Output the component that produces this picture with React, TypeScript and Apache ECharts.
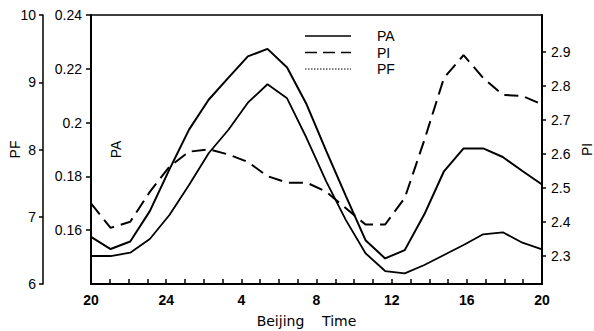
import React, { useEffect, useRef } from "react";
import * as echarts from "echarts";

// Visible time axis: hourly ticks from 20:00 to 20:00 next day
const hourLabels = ["20", "21", "22", "23", "24", "1", "2", "3", "4", "5", "6", "7", "8", "9", "10", "11", "12", "13", "14", "15", "16", "17", "18", "19", "20"];
// 24 samples spread over the full width
const sampleHours = ["20", "21", "22", "23", "0", "1", "2", "3", "4", "5", "6", "7", "8", "9", "10", "11", "12", "13", "14", "15", "16", "17", "18", "19"];

const paValues = [0.1575, 0.153, 0.1558, 0.1671, 0.1826, 0.1974, 0.2085, 0.2166, 0.2246, 0.2274, 0.2205, 0.2067, 0.1894, 0.1727, 0.1563, 0.1495, 0.1526, 0.1659, 0.1819, 0.1904, 0.1904, 0.1872, 0.182, 0.177];
const piValues = [2.455, 2.383, 2.401, 2.489, 2.563, 2.607, 2.614, 2.599, 2.577, 2.535, 2.516, 2.516, 2.489, 2.441, 2.393, 2.393, 2.471, 2.641, 2.824, 2.891, 2.824, 2.774, 2.771, 2.746];
const pfValues = [6.416, 6.416, 6.465, 6.669, 7.026, 7.472, 7.944, 8.29, 8.696, 8.97, 8.761, 8.167, 7.521, 6.95, 6.457, 6.193, 6.159, 6.283, 6.431, 6.58, 6.739, 6.769, 6.614, 6.516];

const piTicks = [2.3, 2.4, 2.5, 2.6, 2.7, 2.8, 2.9];
const legendNames = ["PA", "PI", "PF"];
const legendDash: any[] = ["solid", [12, 6], [1.5, 1.5]];

const FONT = "Liberation Sans, Arial, sans-serif";

export default function App() {
  const ref = useRef<HTMLDivElement>(null);
  useEffect(() => {
    if (!ref.current) return;
    const chart = echarts.init(ref.current, null, { renderer: "svg" });
    const axisLine = { show: true, lineStyle: { color: "#000", width: 2 } };
    const labelStyle = { color: "#000", fontSize: 14, fontFamily: FONT };

    const legendGraphics: any[] = [];
    legendNames.forEach((name, i) => {
      const y = 36 + i * 16.5;
      legendGraphics.push({
        type: "line",
        shape: { x1: 305, y1: y, x2: 351, y2: y },
        style: { stroke: "#000", lineWidth: i === 2 ? 1 : 1.6, lineDash: legendDash[i] === "solid" ? null : legendDash[i] },
        silent: true,
      });
      legendGraphics.push({
        type: "text",
        x: 377,
        y,
        style: { text: name, fill: "#000", font: `14px ${FONT}`, textVerticalAlign: "middle", verticalAlign: "middle" },
        silent: true,
      });
    });

    chart.setOption({
      animation: false,
      backgroundColor: "#fff",
      textStyle: { fontFamily: FONT },
      grid: {
        left: 91,
        right: 52,
        top: 15,
        bottom: 47,
        containLabel: false,
        outerBoundsMode: "none",
        show: true,
        borderColor: "#000",
        borderWidth: 1.5,
        backgroundColor: "transparent",
      },
      graphic: legendGraphics,
      xAxis: [
        {
          type: "category",
          data: hourLabels,
          boundaryGap: false,
          axisLine,
          axisTick: { show: true, inside: true, length: 5, interval: 0, lineStyle: { color: "#000", width: 1.5 } },
          axisLabel: { ...labelStyle, fontWeight: "bold", interval: 3, margin: 9 },
          name: "Beijing    Time",
          nameLocation: "middle",
          nameGap: 30,
          nameMoveOverlap: false,
          nameTextStyle: { color: "#000", fontSize: 14, fontFamily: "DejaVu Sans, sans-serif", padding: [0, 20, 0, 0] },
          splitLine: { show: false },
        },
        {
          type: "category",
          data: sampleHours,
          boundaryGap: false,
          show: false,
        },
      ],
      yAxis: [
        {
          type: "value",
          position: "left",
          offset: 48,
          min: 6,
          max: 10,
          interval: 1,
          name: "PF",
          nameLocation: "middle",
          nameGap: 21,
          nameMoveOverlap: false,
          nameTextStyle: { color: "#000", fontSize: 14, fontFamily: FONT },
          axisLine: { show: true, lineStyle: { color: "#000", width: 1.5 } },
          axisTick: { show: true, length: 4, lineStyle: { color: "#000", width: 1.5 } },
          axisLabel: { ...labelStyle, margin: 7 },
          splitLine: { show: false },
        },
        {
          type: "value",
          position: "left",
          offset: 0,
          min: 0.14,
          max: 0.24,
          interval: 0.02,
          name: "PA",
          nameLocation: "middle",
          nameGap: -32,
          nameMoveOverlap: false,
          nameTextStyle: { color: "#000", fontSize: 14, fontFamily: FONT },
          axisLine,
          axisTick: { show: true, length: 5, lineStyle: { color: "#000", width: 1.5 } },
          axisLabel: { ...labelStyle, margin: 9, showMinLabel: false },
          splitLine: { show: false },
        },
        {
          type: "value",
          position: "right",
          min: 2.218,
          max: 3.009,
          name: "PI",
          nameLocation: "middle",
          nameGap: 38,
          nameMoveOverlap: false,
          nameTextStyle: { color: "#000", fontSize: 14, fontFamily: FONT },
          axisLine,
          axisTick: { show: true, length: 4, customValues: piTicks, lineStyle: { color: "#000", width: 1.5 } },
          axisLabel: { ...labelStyle, margin: 9, customValues: piTicks },
          splitLine: { show: false },
        },
      ],
      series: [
        {
          name: "PA",
          type: "line",
          xAxisIndex: 1,
          yAxisIndex: 1,
          data: paValues,
          symbol: "none",
          lineStyle: { color: "#000", width: 2, type: "solid" },
          itemStyle: { color: "#000" },
        },
        {
          name: "PI",
          type: "line",
          xAxisIndex: 1,
          yAxisIndex: 2,
          data: piValues,
          symbol: "none",
          lineStyle: { color: "#000", width: 2, type: [14, 7] },
          itemStyle: { color: "#000" },
        },
        {
          name: "PF",
          type: "line",
          xAxisIndex: 1,
          yAxisIndex: 0,
          data: pfValues,
          symbol: "none",
          lineStyle: { color: "#000", width: 1.8, type: "solid" },
          itemStyle: { color: "#000" },
        },
      ],
    });
    return () => chart.dispose();
  }, []);
  return <div ref={ref} style={{ width: 594, height: 331, position: "absolute", left: 0, top: 0 }} />;
}
